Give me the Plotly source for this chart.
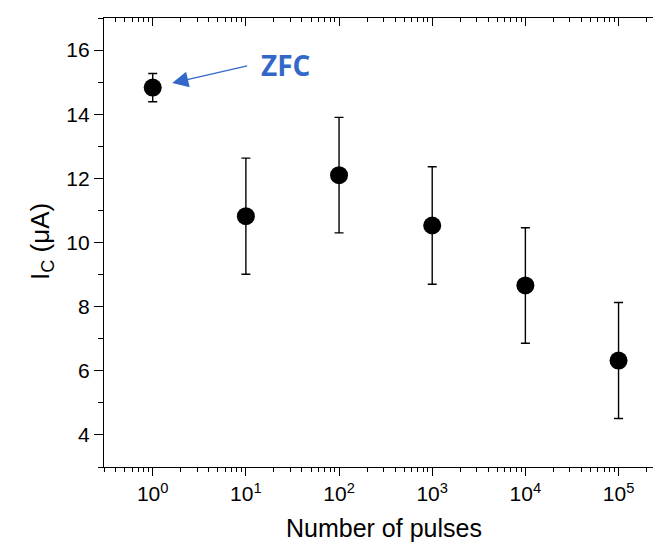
import plotly.graph_objects as go
import numpy as np

# Data
pulses = [1, 10, 100, 1000, 10000, 100000]
ic_values = [14.83, 10.82, 12.1, 10.53, 8.66, 6.32]
ic_errors = [0.44, 1.81, 1.8, 1.83, 1.8, 1.81]
x_tick_vals = [1, 10, 100, 1000, 10000, 100000]
x_tick_text = ["10<sup>0</sup>", "10<sup>1</sup>", "10<sup>2</sup>",
               "10<sup>3</sup>", "10<sup>4</sup>", "10<sup>5</sup>"]
y_tick_vals = [4, 6, 8, 10, 12, 14, 16]

x_min, x_max = 0.3, 3e5
minor_x = [round(m * 10.0 ** e, 6) for e in range(-1, 6) for m in range(2, 10)]
minor_x = [v for v in minor_x if x_min <= v <= x_max and v not in x_tick_vals]
minor_y = [3, 5, 7, 9, 11, 13, 15, 17]

FONT = "Liberation Sans, Arial, sans-serif"
BLUE = "#3468C8"

fig = go.Figure()
fig.add_trace(go.Scatter(
    x=pulses, y=ic_values, mode="markers",
    marker=dict(color="black", size=18),
    error_y=dict(type="data", array=ic_errors, visible=True,
                 color="black", thickness=1.4, width=4.5),
    showlegend=False,
))
# invisible trace for mirror axes
fig.add_trace(go.Scatter(x=[1], y=[10], xaxis="x2", yaxis="y2",
                         mode="markers", marker=dict(opacity=0),
                         showlegend=False, hoverinfo="skip"))

xr = [np.log10(x_min), np.log10(x_max)]
common_x = dict(type="log", range=xr, tickvals=x_tick_vals, automargin=False,
                showgrid=False, zeroline=False, linecolor="black",
                linewidth=1.3, tickcolor="black", tickwidth=1.3, ticklen=8,
                minor=dict(tickvals=minor_x, ticklen=4, tickcolor="black",
                           tickwidth=1.3, showgrid=False))
common_y = dict(range=[3, 17], tickvals=y_tick_vals, showgrid=False,
                automargin=False,
                zeroline=False, linecolor="black", linewidth=1.3,
                tickcolor="black", tickwidth=1.3, ticklen=9,
                minor=dict(tickvals=minor_y, ticklen=5, tickcolor="black",
                           tickwidth=1.3, showgrid=False))

fig.update_layout(
    width=661, height=545,
    margin=dict(l=96, r=6, t=10, b=86),
    paper_bgcolor="white", plot_bgcolor="white",
    font=dict(family=FONT, color="black"),
    xaxis=dict(**common_x, ticks="outside", ticktext=x_tick_text,
               tickfont=dict(size=21, family=FONT),
               minor_ticks="outside"),
    xaxis2=dict(**common_x, ticks="inside", minor_ticks="inside",
                overlaying="x", side="top", anchor="y",
                showticklabels=False),
    yaxis=dict(**common_y, ticks="outside", minor_ticks="outside",
               tickfont=dict(size=21, family=FONT)),
    yaxis2=dict(**common_y, ticks="inside", minor_ticks="inside",
                overlaying="y", side="right", anchor="x",
                showticklabels=False),
)

# Axis titles
fig.add_annotation(x=0.5, y=-0.136, xref="paper", yref="paper",
                   text="Number of pulses", showarrow=False,
                   xanchor="center", yanchor="middle",
                   font=dict(size=25, family=FONT, color="black"))
fig.add_annotation(x=-0.113, y=0.503, xref="paper", yref="paper",
                   text="I<sub>C</sub> (μA)", showarrow=False, textangle=-90,
                   xanchor="center", yanchor="middle",
                   font=dict(size=26, family=FONT, color="black"))

# ZFC arrow and label
fig.add_annotation(
    x=0, y=ic_values[0], xref="x", yref="y",
    ax=96, ay=-22, text="", showarrow=True, arrowhead=2, arrowsize=2.3,
    arrowwidth=1.4, arrowcolor=BLUE, standoff=20,
)
fig.add_annotation(
    x=(277 - 96) / 559, y=(459 - 57) / 449, xref="paper", yref="paper",
    text="<b>ZFC</b>", showarrow=False, xanchor="center", yanchor="middle",
    font=dict(size=28, color=BLUE, family="Open Sans, sans-serif"),
)

fig.write_html("out.html")
